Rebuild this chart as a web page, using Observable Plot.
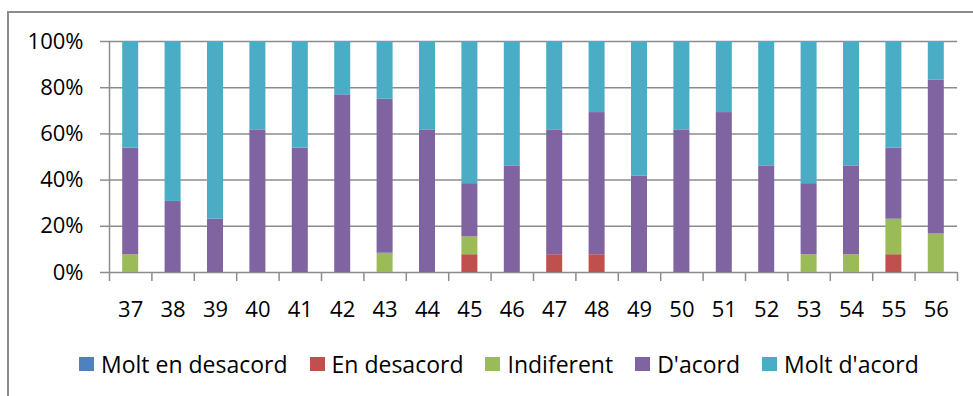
<!DOCTYPE html>
<html>
<head>
<meta charset="utf-8">
<script src="https://cdn.jsdelivr.net/npm/d3@7"></script>
<script src="https://cdn.jsdelivr.net/npm/@observablehq/plot@0.6"></script>
<style>
  html, body { margin: 0; padding: 0; background: #fff; }
  body { width: 973px; height: 396px; position: relative; overflow: hidden;
         font-family: "Open Sans", sans-serif; }
  #frame { position: absolute; left: 7px; top: 11px; width: 980px; height: 400px;
           border-left: 2px solid #8c8c8c; border-top: 2px solid #8c8c8c; }
  #chart { position: absolute; left: 0; top: 0; }
  #legend { position: absolute; left: 79px; top: 348px;
            display: flex; justify-content: flex-start; gap: 22px;
            font-size: 23px; color: #000; }
  #legend .item { display: flex; align-items: center; gap: 7px; white-space: nowrap; }
  #legend .sw { width: 15px; height: 14px; display: inline-block; }
</style>
</head>
<body>
<div id="frame"></div>
<div id="chart"></div>
<div id="legend"></div>
<script>
// Question numbers along the x axis
const questions = ["37","38","39","40","41","42","43","44","45","46","47","48","49","50","51","52","53","54","55","56"];

// Answer categories (bottom to top) and their colours
const series = ["Molt en desacord", "En desacord", "Indiferent", "D'acord", "Molt d'acord"];
const colors = ["#4F81BD", "#C0504D", "#9BBB59", "#8064A2", "#4BACC6"];

// Number of answers per question for each category
const moltEnDesacord = [0,0,0,0,0,0,0,0,0,0,0,0,0,0,0,0,0,0,0,0];
const enDesacord     = [0,0,0,0,0,0,0,0,1,0,1,1,0,0,0,0,0,0,1,0];
const indiferent     = [1,0,0,0,0,0,1,0,1,0,0,0,0,0,0,0,1,1,2,2];
const dAcord         = [6,4,3,8,7,10,8,8,3,6,7,8,5,8,9,6,4,5,4,8];
const moltDAcord     = [6,9,10,5,6,3,3,5,8,7,5,4,7,5,4,7,8,7,6,2];

const yTicks = [0, 0.2, 0.4, 0.6, 0.8, 1];

const counts = [moltEnDesacord, enDesacord, indiferent, dAcord, moltDAcord];
const rows = [];
questions.forEach((q, i) => {
  series.forEach((s, k) => rows.push({i, question: q, series: s, count: counts[k][i]}));
});

const gray = "#8c8c8c";
const chart = Plot.plot({
  width: 973,
  height: 330,
  marginLeft: 109,
  marginRight: 16,
  marginTop: 41,
  marginBottom: 58,
  style: {fontFamily: "'Open Sans', sans-serif", fontSize: "22px", color: "#000", background: "transparent"},
  x: {type: "linear", domain: [0, questions.length]},
  y: {domain: [0, 1]},
  color: {domain: series, range: colors},
  marks: [
    Plot.gridY(yTicks, {stroke: gray, strokeOpacity: 1, strokeWidth: 1.5}),
    Plot.axisY({ticks: yTicks, tickFormat: d3.format(".0%"), tickSize: 9, tickPadding: 17,
                stroke: gray, strokeWidth: 1.5, fill: "#000", label: null}),
    Plot.axisX({ticks: d3.range(questions.length + 1), tickFormat: () => "", tickSize: 9,
                stroke: gray, strokeWidth: 1.5, label: null}),
    Plot.ruleX([0], {stroke: gray, strokeWidth: 1.5}),
    Plot.rectY(rows, {x: "i", interval: 1, y: "count", fill: "series", offset: "normalize",
                      insetLeft: 13.2, insetRight: 13.2}),
    Plot.text(questions, {x: (d, i) => i + 0.5, frameAnchor: "bottom", lineAnchor: "top",
                          dy: 29, text: d => d, fill: "#000"})
  ]
});
document.getElementById("chart").appendChild(chart);

// Legend below the chart
const legend = document.getElementById("legend");
series.forEach((s, k) => {
  const item = document.createElement("div");
  item.className = "item";
  const sw = document.createElement("span");
  sw.className = "sw";
  sw.style.background = colors[k];
  const label = document.createElement("span");
  label.textContent = s;
  item.append(sw, label);
  legend.appendChild(item);
});
</script>
</body>
</html>
